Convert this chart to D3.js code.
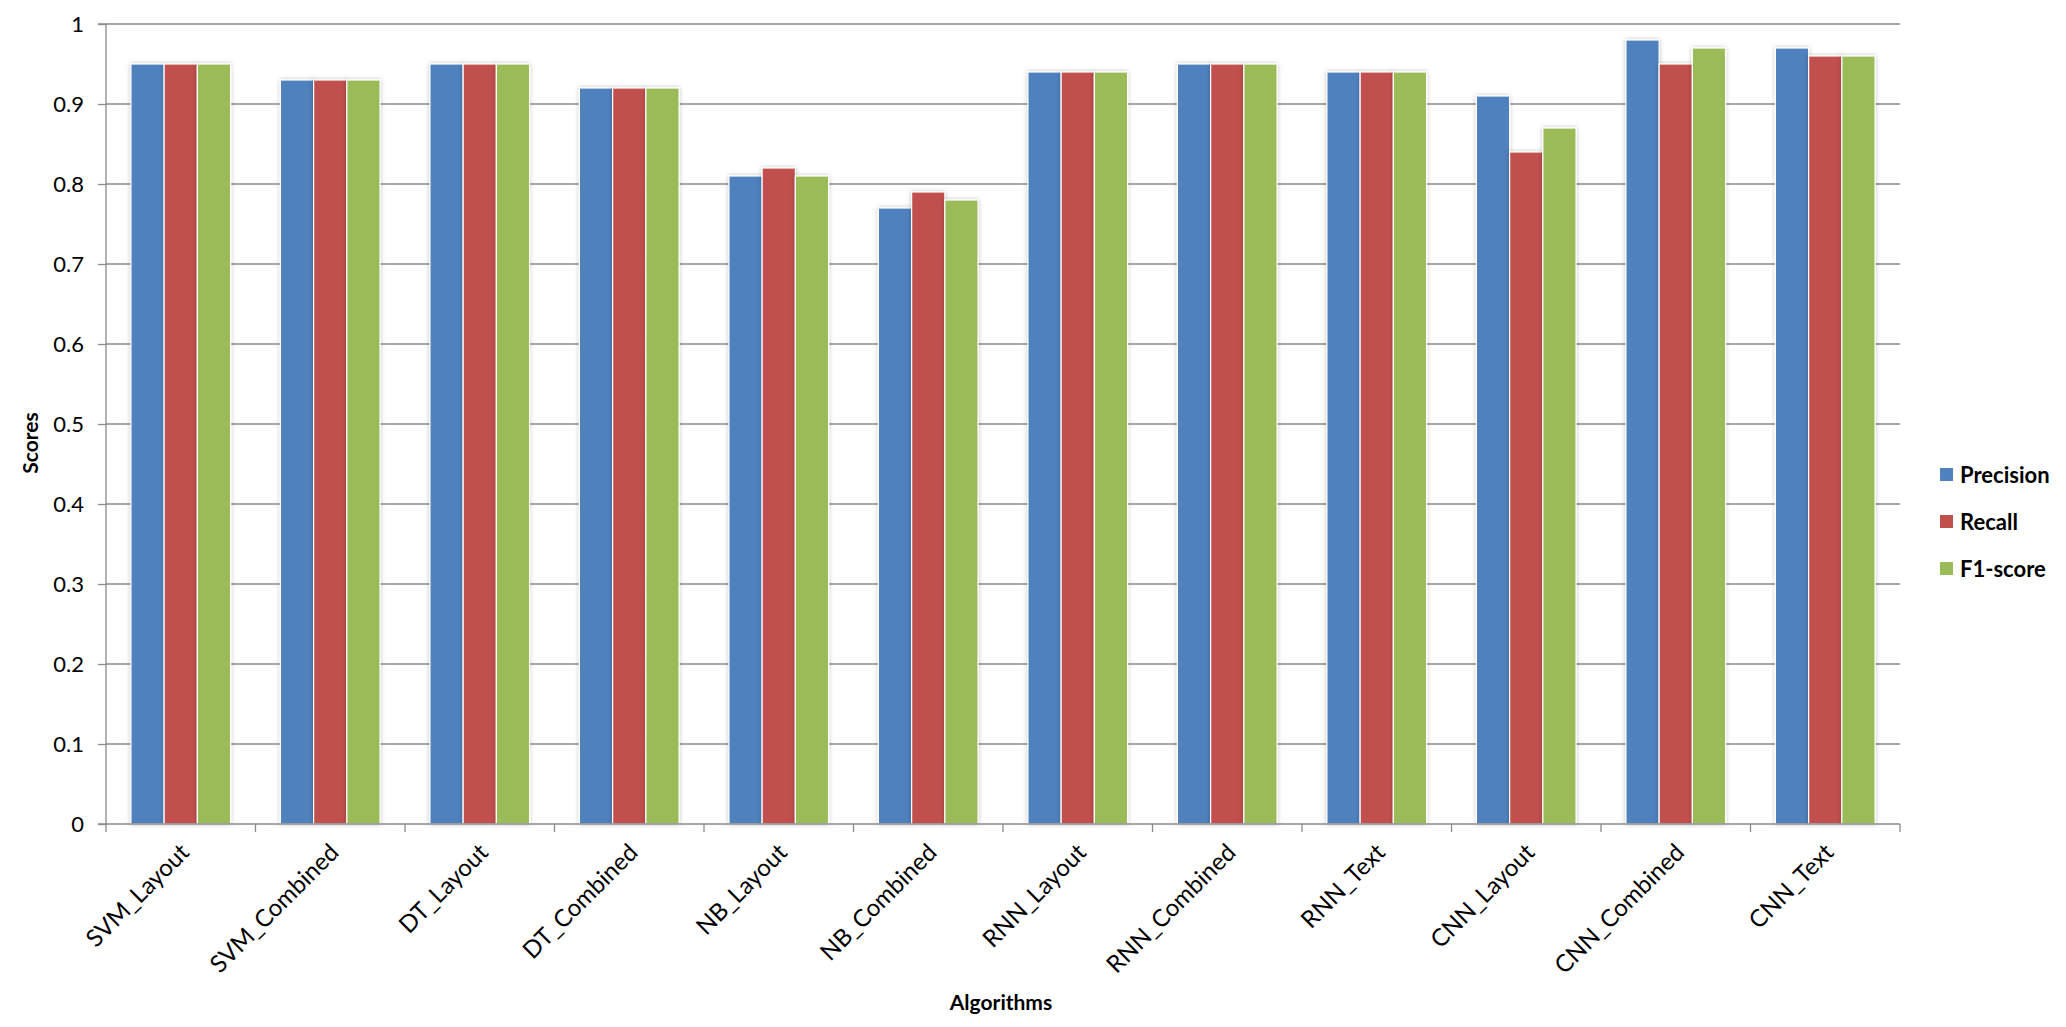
<!DOCTYPE html>
<html><head><meta charset="utf-8">
<script src="https://cdn.jsdelivr.net/npm/d3@7"></script>
<style>body{margin:0;background:#fff;} svg{display:block;}</style>
</head><body>
<svg id="chart" width="2066" height="1027"></svg>
<script>
const categories = ["SVM_Layout","SVM_Combined","DT_Layout","DT_Combined","NB_Layout","NB_Combined","RNN_Layout","RNN_Combined","RNN_Text","CNN_Layout","CNN_Combined","CNN_Text"];
const seriesNames = ["Precision","Recall","F1-score"];
const precision = [0.95,0.93,0.95,0.92,0.81,0.77,0.94,0.95,0.94,0.91,0.98,0.97];
const recall    = [0.95,0.93,0.95,0.92,0.82,0.79,0.94,0.95,0.94,0.84,0.95,0.96];
const f1score   = [0.95,0.93,0.95,0.92,0.81,0.78,0.94,0.95,0.94,0.87,0.97,0.96];
const yTicks = [0,0.1,0.2,0.3,0.4,0.5,0.6,0.7,0.8,0.9,1];
const colors = ["#4F81BD","#C0504D","#9BBB59"];
const seriesValues = [precision, recall, f1score];

const FONT = "Lato, 'Open Sans', sans-serif";
const svg = d3.select("#chart");
const m = {left:106, right:2066-1900, top:24, bottom:1027-824};
const W = 1900-106, H = 824-24;

const defs = svg.append("defs");
const f = defs.append("filter").attr("id","sh").attr("x","-20%").attr("y","-5%").attr("width","140%").attr("height","110%");
f.append("feDropShadow").attr("dx",0).attr("dy",0).attr("stdDeviation",2).attr("flood-color","#000").attr("flood-opacity",0.25);

const g = svg.append("g").attr("transform",`translate(${m.left},${m.top})`);

const x = d3.scaleBand().domain(categories).range([0,W]).paddingInner(0).paddingOuter(0);
const y = d3.scaleLinear().domain([0,1]).range([H,0]);
const bw = x.bandwidth()/4.5;
const xs = d3.scaleBand().domain(seriesNames).range([bw*0.75, bw*3.75]).padding(0);

// gridlines
g.append("g").selectAll("line").data(yTicks.filter(d=>d>0)).join("line")
  .attr("x1",0).attr("x2",W).attr("y1",d=>y(d)).attr("y2",d=>y(d))
  .attr("stroke","#8a8a8a").attr("stroke-width",1.3);

// bars
const groups = g.append("g").selectAll("g").data(categories).join("g")
  .attr("transform",d=>`translate(${x(d)},0)`);
groups.selectAll("rect").data((c,i)=>seriesNames.map((s,j)=>({s, v:seriesValues[j][i], j})))
  .join("rect")
  .attr("x",d=>xs(d.s)).attr("width",xs.bandwidth())
  .attr("y",d=>y(d.v)).attr("height",d=>H-y(d.v))
  .attr("fill",d=>colors[d.j]).attr("stroke","#fff").attr("stroke-width",1.2)
  .attr("filter","url(#sh)");

// y axis
const yAxis = d3.axisLeft(y).tickValues(yTicks).tickSize(8).tickPadding(14).tickFormat(d=>d3.format("")(+d.toFixed(1)));
const ya = g.append("g").call(yAxis);
ya.select(".domain").attr("stroke","#8a8a8a").attr("stroke-width",1.3).attr("d",`M-8,0H0V${H}H-8`);
ya.selectAll(".tick line").attr("stroke","#8a8a8a").attr("stroke-width",1.3);
ya.selectAll(".tick text").attr("font-family",FONT).attr("font-size",22).attr("fill","#000");

// x axis
const xa = g.append("g").attr("transform",`translate(0,${H})`);
xa.append("line").attr("x1",0).attr("x2",W).attr("y1",0).attr("y2",0).attr("stroke","#8a8a8a").attr("stroke-width",1.3);
xa.selectAll("line.tk").data(d3.range(categories.length+1)).join("line").attr("class","tk")
  .attr("x1",i=>i*x.step()).attr("x2",i=>i*x.step()).attr("y1",0).attr("y2",8)
  .attr("stroke","#8a8a8a").attr("stroke-width",1.3);
xa.selectAll("text").data(categories).join("text")
  .attr("transform",d=>`translate(${x(d)+x.bandwidth()/2+4},${24}) rotate(-45)`)
  .attr("text-anchor","end").attr("dy","0.35em")
  .attr("font-family",FONT).attr("font-size",24).attr("fill","#000").text(d=>d);

// axis titles
svg.append("text").attr("transform",`translate(38,443) rotate(-90)`).attr("text-anchor","middle")
  .attr("font-family",FONT).attr("font-weight","bold").attr("font-size",21).text("Scores");
svg.append("text").attr("x",1001).attr("y",1010).attr("text-anchor","middle")
  .attr("font-family",FONT).attr("font-weight","bold").attr("font-size",21).text("Algorithms");

// legend
const lg = svg.append("g").attr("transform","translate(1940,468)");
const li = lg.selectAll("g").data(seriesNames).join("g").attr("transform",(d,i)=>`translate(0,${i*47})`);
li.append("rect").attr("width",13).attr("height",13).attr("fill",(d,i)=>colors[i]);
li.append("text").attr("x",20).attr("y",7).attr("dy","0.36em")
  .attr("font-family",FONT).attr("font-weight","bold").attr("font-size",22).text(d=>d);
</script>
</body></html>
